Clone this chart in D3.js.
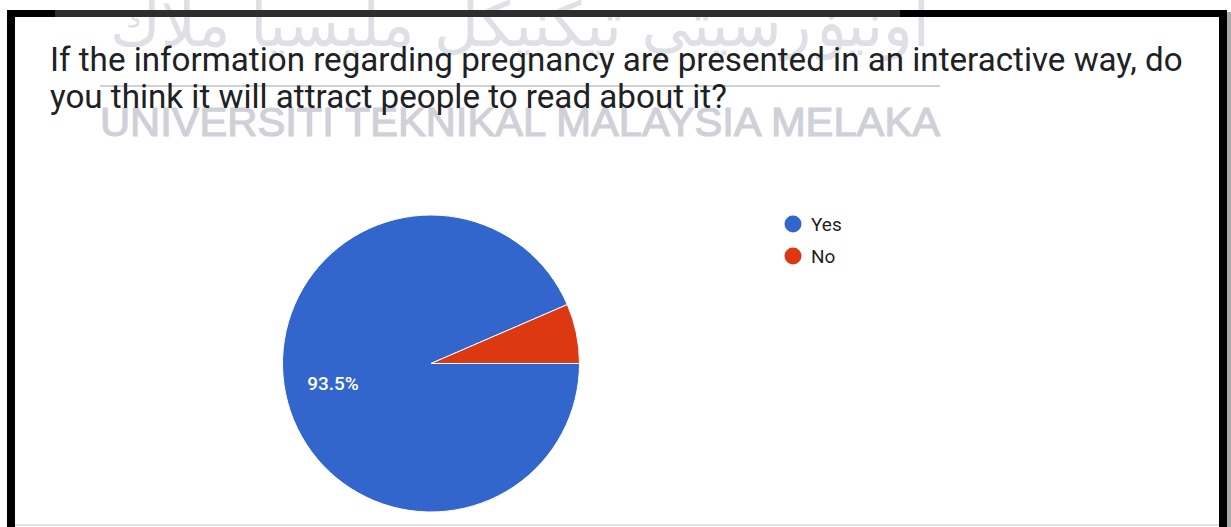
<!DOCTYPE html>
<html><head><meta charset="utf-8">
<script src="https://cdn.jsdelivr.net/npm/d3@7"></script>
<style>html,body{margin:0;padding:0;background:#fff;overflow:hidden}</style>
</head><body>
<svg id="c" width="1231" height="527"></svg>
<script>
const categories = ["Yes", "No"];
const values = [93.5, 6.5];
const colors = ["#3366cc", "#dc3912"];
const titleLines = ["If the information regarding pregnancy are presented in an interactive way, do",
                    "you think it will attract people to read about it?"];
const watermarkLatin = "UNIVERSITI TEKNIKAL MALAYSIA MELAKA";
const watermarkJawi = "اونيۏرسيتي تيكنيكل مليسيا ملاك";

const svg = d3.select("#c");
svg.append("rect").attr("width",1231).attr("height",527).attr("fill","#fff");

// watermark jawi
const jw = svg.append("text").attr("x",520).attr("y",46).attr("font-family","DejaVu Sans")
  .attr("font-size",48).attr("fill","#dfe0e5").attr("text-anchor","middle")
  .text(watermarkJawi);
const jwl = jw.node().getComputedTextLength();
if (jwl > 0) jw.attr("font-size", 48 * 820 / jwl);

// borders
svg.append("rect").attr("x",7).attr("y",10).attr("width",1220).attr("height",7).attr("fill","#000");
svg.append("rect").attr("x",55).attr("y",10).attr("width",845).attr("height",7).attr("fill","#2e2e2e");
svg.append("rect").attr("x",7).attr("y",10).attr("width",8).attr("height",517).attr("fill","#000");
svg.append("rect").attr("x",1219).attr("y",10).attr("width",8).attr("height",517).attr("fill","#000");
svg.append("rect").attr("x",1227).attr("y",12).attr("width",4).attr("height",515).attr("fill","#a8a8a8");
svg.append("rect").attr("x",15).attr("y",524).attr("width",1204).attr("height",2).attr("fill","#e3e3e3");

// watermark line and latin text
svg.append("rect").attr("x",100).attr("y",85).attr("width",840).attr("height",2).attr("fill","#d0d1d7");
svg.append("text").attr("x",100).attr("y",136).attr("font-family","Liberation Sans, Arial")
  .attr("font-size",40).attr("fill","#d0d1d8").attr("stroke","#d0d1d8").attr("stroke-width",1.2)
  .attr("textLength",840).attr("lengthAdjust","spacingAndGlyphs")
  .text(watermarkLatin);

// title
const tg = svg.append("g");
const t1 = tg.append("text").attr("x",50).attr("y",71).attr("font-family","Roboto")
  .attr("font-size",28).attr("fill","#202124").text(titleLines[0]);
const w = t1.node().getComputedTextLength();
const fs = 28 * 1133 / w;
t1.attr("font-size",fs);
tg.append("text").attr("x",50).attr("y",108).attr("font-family","Roboto")
  .attr("font-size",fs).attr("fill","#202124").text(titleLines[1]);

// pie
const cx = 431, cy = 363.5, r = 148.5;
const pie = d3.pie().sort(null).startAngle(Math.PI/2).endAngle(Math.PI/2 + 2*Math.PI);
const arcs = pie(values);
const arc = d3.arc().innerRadius(0).outerRadius(r);
const g = svg.append("g").attr("transform",`translate(${cx},${cy})`);
g.selectAll("path").data(arcs).join("path").attr("d",arc)
  .attr("fill",(d,i)=>colors[i]).attr("stroke","#fff").attr("stroke-width",1);

// label for large slice only (Google style)
arcs.forEach((d,i)=>{
  if (values[i] < 10) return;
  g.append("text").attr("x",-98).attr("y",26.5).attr("text-anchor","middle")
    .attr("font-family","Roboto").attr("font-size",19).attr("font-weight",500).attr("fill","#fff")
    .text(d3.format(".1f")(values[i]) + "%");
});

// legend
const lg = svg.append("g").attr("transform","translate(793,224)");
categories.forEach((c,i)=>{
  lg.append("circle").attr("cx",0).attr("cy",i*32).attr("r",8.5).attr("fill",colors[i]);
  lg.append("text").attr("x",18).attr("y",i*32+7).attr("font-family","Roboto")
    .attr("font-size",19).attr("fill","#1f1f1f").text(c);
});
</script>
</body></html>
